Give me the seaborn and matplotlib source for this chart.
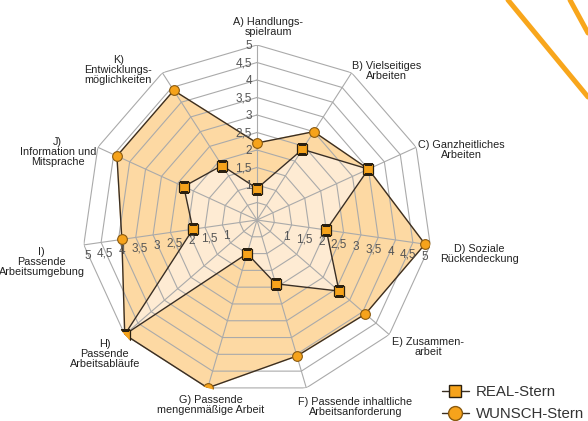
import numpy as np
import seaborn as sns
import matplotlib.pyplot as plt
from matplotlib.lines import Line2D

# data
categories = ['A) Handlungs-\nspielraum', 'B) Vielseitiges\nArbeiten',
              'C) Ganzheitliches\nArbeiten', 'D) Soziale\nRückendeckung',
              'E) Zusammen-\narbeit', 'F) Passende inhaltliche\nArbeitsanforderung',
              'G) Passende\nmengenmäßige Arbeit', 'H)\nPassende\nArbeitsabläufe',
              'I)\nPassende\nArbeitsumgebung', 'J)\nInformation und\nMitsprache',
              'K)\nEntwicklungs-\nmöglichkeiten']
real = [0.9, 2.4, 3.5, 2.0, 3.1, 1.9, 1.0, 5.0, 1.85, 2.3, 1.85]
wunsch = [2.2, 3.0, 3.5, 4.85, 4.1, 4.05, 5.0, 5.0, 3.9, 4.4, 4.4]
rings = [0.5, 1, 1.5, 2, 2.5, 3, 3.5, 4, 4.5, 5]
tick_vals = [1, 1.5, 2, 2.5, 3, 3.5, 4, 4.5, 5]
tick_labels = ['1', '1,5', '2', '2,5', '3', '3,5', '4', '4,5', '5']

sns.set_style('white')
plt.rcParams['font.family'] = ['Liberation Sans', 'DejaVu Sans']

orange = '#F6A31B'
dark = '#3a2e22'
grid_c = '#aaaaaa'

n = len(categories)
theta = np.linspace(0, 2 * np.pi, n, endpoint=False)
theta_c = np.append(theta, theta[0])

fig = plt.figure(figsize=(5.88, 4.21), dpi=100)
ax = fig.add_axes([82 / 588, 26 / 421, 350 / 588, 350 / 421], projection='polar')
ax.set_theta_zero_location('N')
ax.set_theta_direction(-1)
ax.set_ylim(0, 5)
ax.set_axis_off()

# fills
ax.fill(theta_c, wunsch + wunsch[:1], color='#FDD9A3', zorder=1)
ax.fill(theta_c, real + real[:1], color='#FEEBD3', zorder=1.5)

# polygon grid
for r in rings:
    ax.plot(theta_c, [r] * (n + 1), color=grid_c, lw=0.8, zorder=2)
for t in theta:
    ax.plot([t, t], [0, 5], color=grid_c, lw=0.8, zorder=2)

# series
ax.plot(theta_c, wunsch + wunsch[:1], color=dark, lw=1, zorder=3)
ax.plot(theta_c, real + real[:1], color=dark, lw=1, zorder=3)
ax.plot(theta, wunsch, ls='none', marker='o', ms=7, mfc=orange, mec='#8a5a10', mew=0.8, zorder=4)
ax.plot(theta, real, ls='none', marker='s', ms=6.5, mfc=orange, mec='#2a2010', mew=0.9, zorder=5)

# scale labels along A, D and I
for v, lab in zip(tick_vals, tick_labels):
    ax.annotate(lab, xy=(theta[0], v), xytext=(-5, -1), textcoords='offset pixels',
                ha='right', va='center', fontsize=8.5, color='#555555', zorder=6)
    ax.annotate(lab, xy=(theta[3], v), xytext=(-5, -12), textcoords='offset pixels',
                ha='center', va='center', fontsize=8.5, color='#555555', zorder=6)
    ax.annotate(lab, xy=(theta[8], v), xytext=(4, -11), textcoords='offset pixels',
                ha='center', va='center', fontsize=8.5, color='#555555', zorder=6)

# category labels
label_offsets = [(11, 18), (35, 2), (45, -3), (49, -9), (39, -12), (49, -19),
                 (3, -17), (-20, -19), (-42, -17), (-40, -5), (-44, 3)]
for t, lab, off in zip(theta, categories, label_offsets):
    ax.annotate(lab, xy=(t, 5), xytext=off, textcoords='offset pixels',
                ha='center', va='center', multialignment='center',
                fontsize=7.8, color='#222222', linespacing=1.0)

# legend
handles = [Line2D([], [], color=dark, lw=1, marker='s', ms=9, mfc=orange, mec='#2a2010'),
           Line2D([], [], color=dark, lw=1, marker='o', ms=10, mfc=orange, mec='#8a5a10')]
fig.legend(handles, ['REAL-Stern', 'WUNSCH-Stern'], loc='center left',
           bbox_to_anchor=(434 / 588, 18 / 421), frameon=False, fontsize=10.8,
           handlelength=1.8, handletextpad=0.5, labelspacing=0.5, borderpad=0,
           labelcolor='#333333')

# decorative strokes top right
fig.add_artist(Line2D([508 / 588, 1.0], [1.0, 1 - 97 / 421], color='#F8A61C', lw=3.6,
                      transform=fig.transFigure))
fig.add_artist(Line2D([570 / 588, 1.0], [1.0, 1 - 33 / 421], color='#F8A61C', lw=3.6,
                      transform=fig.transFigure))

fig.savefig('out.png', dpi=100)
